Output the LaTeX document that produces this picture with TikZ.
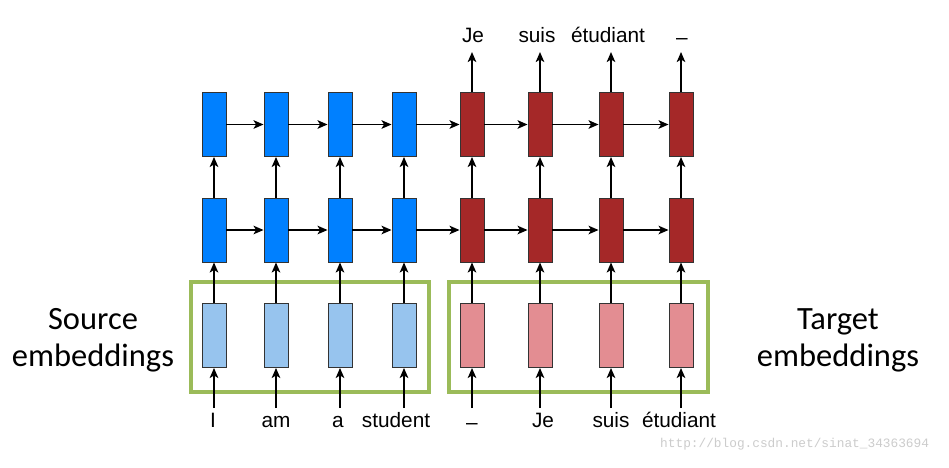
\documentclass[tikz,border=0pt]{standalone}
\usepackage{fontspec}
\setmainfont{Liberation Sans}
\newfontfamily\calfont{Carlito}
\newfontfamily\wmfont{Liberation Mono}
\usetikzlibrary{arrows.meta}
\definecolor{encblue}{HTML}{0080FF}
\definecolor{decred}{HTML}{A52828}
\definecolor{embblue}{HTML}{97C4EE}
\definecolor{embred}{HTML}{E38D92}
\definecolor{grn}{HTML}{9BBB59}
\definecolor{edge}{HTML}{333333}
\tikzset{
  cell/.style={draw=edge, line width=0.9pt, minimum width=24pt, minimum height=64pt, inner sep=0pt},
  enc/.style={cell, fill=encblue},
  dec/.style={cell, fill=decred},
  eblue/.style={cell, fill=embblue},
  ered/.style={cell, fill=embred},
  arr/.style={line width=1.9pt, -{Stealth[length=10pt,width=8.5pt,inset=2.5pt]}},
  word/.style={font=\fontsize{20.8}{24}\selectfont, inner sep=0pt, anchor=base},
  side/.style={font=\calfont\fontsize{32.5}{37}\selectfont, align=center, inner sep=0pt},
  grbox/.style={draw=grn, line width=4pt}
}
\begin{document}
\begin{tikzpicture}[x=1pt,y=-1pt]
\useasboundingbox[fill=white] (0,0) rectangle (949,467);
% green frames
\draw[grbox] (191,282.3) rectangle (429.3,392.3);
\draw[grbox] (449,282.3) rectangle (708.3,392.3);
% columns
\foreach \i/\x in {1/214,2/276,3/340,4/404}{
  \node[enc]   (t\i) at (\x,124.5) {};
  \node[enc]   (m\i) at (\x,230) {};
  \node[eblue] (e\i) at (\x,335.5) {};
}
\foreach \i/\x in {5/472,6/540,7/611,8/681}{
  \node[dec] (t\i) at (\x,124.5) {};
  \node[dec] (m\i) at (\x,230) {};
  \node[ered] (e\i) at (\x,335.5) {};
}
% inputs
\foreach \i/\x in {1/214,2/276,3/340,4/404,5/472,6/540,7/611,8/681}{
  \coordinate (in\i) at (\x,408);
  \draw[arr] (in\i) -- (e\i.south);
  \draw[arr] (e\i.north) -- (m\i.south);
  \draw[arr] (m\i.north) -- (t\i.south);
}
% horizontal
\foreach \i/\j in {1/2,2/3,3/4,4/5,5/6,6/7,7/8}{
  \draw[arr] (t\i.east) -- (t\j.west);
  \draw[arr] (m\i.east) -- (m\j.west);
}
% outputs
\foreach \i/\x in {5/472,6/540,7/611,8/681}{
  \coordinate (out\i) at (\x,52);
  \draw[arr] (t\i.north) -- (out\i);
}
% top labels
\node[word] (o5) at (473,42) {Je};
\node[word] (o6) at (537,42) {suis};
\node[word] (o7) at (608,42) {étudiant};
\node[word] (o8) at (682,42) {\raisebox{-2.5pt}{–}};
% bottom labels
\node[word] (w1) at (213,427) {I};
\node[word] (w2) at (276,427) {am};
\node[word] (w3) at (338,427) {a};
\node[word] (w4) at (396,427) {student};
\node[word] (w5) at (472,427) {\raisebox{-2.5pt}{–}};
\node[word] (w6) at (543,427) {Je};
\node[word] (w7) at (611,427) {suis};
\node[word] (w8) at (679,427) {étudiant};
% side labels
\node[side] (src) at (93,340) {Source\\embeddings};
\node[side] (tgt) at (838,340) {Target\\embeddings};
% watermark
\node[font=\wmfont\fontsize{12.8}{14}\selectfont, text=black!20, anchor=base west, inner sep=0pt] (wm) at (660,447) {http://blog.csdn.net/sinat\_34363694};
\end{tikzpicture}
\end{document}
